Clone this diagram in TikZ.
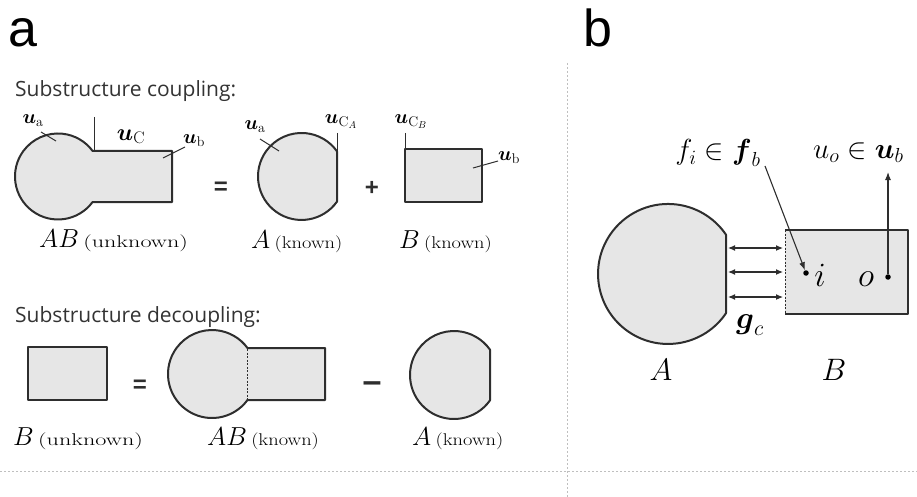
\RequirePackage{fix-cm}
\documentclass[tikz,border=0pt]{standalone}
\usepackage{fontspec}
\usepackage{amsmath}
\usetikzlibrary{arrows.meta,calc}
\newfontfamily\panelfont{Liberation Sans}
\newfontfamily\headfont{Open Sans}
\definecolor{partfill}{HTML}{E6E6E6}
\definecolor{edge}{HTML}{2E2E2E}
\newcommand\myfs[1]{\fontsize{#1}{#1}\selectfont}
\newcommand\unk{\scalebox{1.42}[1]{\myfs{17}(unknown)}}
\newcommand\kno{\scalebox{1.2}[1]{\myfs{17}(known)}}
\begin{document}
\begin{tikzpicture}[x=1pt,y=-1pt,
  part/.style={fill=partfill,draw=edge,line width=2pt,line join=round},
  lead/.style={draw=edge,line width=1pt},
  sep/.style={draw=gray!50,line width=0.8pt,dash pattern=on 2pt off 2pt},
  panel/.style={font=\panelfont\myfs{52},inner sep=0pt,anchor=base west},
  head/.style={font=\headfont\myfs{21},inner sep=0pt,anchor=base west,text=black!80},
  capt/.style={font=\myfs{26},inner sep=0pt,anchor=base west},
  small/.style={font=\myfs{20},inner sep=0pt},
  op/.style={font=\panelfont\bfseries\myfs{24},inner sep=0pt,text=edge},
  bigl/.style={font=\myfs{31},inner sep=0pt},
  pt/.style={font=\myfs{34},inner sep=0pt},
  dot/.style={circle,fill=black,inner sep=0pt,minimum size=5.5pt},
  dbl/.style={{Latex[length=7pt,width=6pt]}-{Latex[length=7pt,width=6pt]},draw=edge,line width=1.1pt},
  arr/.style={-{Latex[length=8pt,width=6pt]},draw=edge,line width=1.1pt}]
\useasboundingbox (0,0) rectangle (917,497);

% separators
\coordinate (vs1) at (567,63); \coordinate (vs2) at (567,497);
\coordinate (hs1) at (0,471); \coordinate (hs2) at (917,471);
\draw[sep] (vs1) -- (vs2);
\draw[sep] (hs1) -- (hs2);

% panel letters
\node[panel] (la) at (8,47) {a};
\node[panel] (lb) at (583,47) {b};

% ---------- coupling ----------
\node[head] (hc) at (15,97) {Substructure coupling:};

% AB
\draw[part] (92.6,202) arc[start angle=36.4,end angle=323.6,radius=43] -- (172,151) -- (172,202) -- cycle;
% A
\draw[part] (337,201.6) arc[start angle=35.3,end angle=324.7,radius=43.5] -- cycle;
% B
\draw[part] (405,149) rectangle (482,202);

\node[small] (ua1) at (33,121) {$\boldsymbol{u}_{\mathrm{a}}$};
\coordinate (ua1e) at (56,141);
\draw[lead] (41,132) -- (ua1e);
\node[font=\myfs{24},inner sep=0pt] (uc) at (131,137) {$\boldsymbol{u}_{\mathrm{C}}$};
\coordinate (uct) at (94,117); \coordinate (ucb) at (94,151);
\draw[lead] (uct) -- (ucb);
\node[small] (ub1) at (194,141) {$\boldsymbol{u}_{\mathrm{b}}$};
\coordinate (ub1e) at (163,158);
\draw[lead] (185,147) -- (ub1e);

\node[op] (eq1) at (221,188) {=};

\node[small] (ua2) at (255,127) {$\boldsymbol{u}_{\mathrm{a}}$};
\coordinate (ua2e) at (279,151);
\draw[lead] (260,139) -- (ua2e);
\node[small] (uca) at (341,122) {$\boldsymbol{u}_{\mathrm{C}_A}$};
\coordinate (ucat) at (337,133); \coordinate (ucab) at (337,151);
\draw[lead] (ucat) -- (ucab);

\node[op] (plus) at (372,188) {+};

\node[small] (ucbl) at (411,122) {$\boldsymbol{u}_{\mathrm{C}_B}$};
\coordinate (ucbt) at (405,133); \coordinate (ucbb) at (405,149);
\draw[lead] (ucbt) -- (ucbb);
\node[small] (ub2) at (509,158) {$\boldsymbol{u}_{\mathrm{b}}$};
\coordinate (ub2e) at (473,168);
\draw[lead] (498,161) -- (ub2e);

\node[capt] (cab) at (39,247) {$AB$\,\unk};
\node[capt] (ca) at (251,248) {$A$\,\kno};
\node[capt] (cb) at (399,248) {$B$\,\kno};

% ---------- decoupling ----------
\node[head] (hd) at (15,322) {Substructure decoupling:};

\draw[part] (28,347) rectangle (107,400);
\node[op] (eq2) at (140,386) {=};
\draw[part] (247.5,400) arc[start angle=36.2,end angle=323.8,radius=44] -- (325,348) -- (325,400) -- cycle;
\coordinate (dl1) at (247.5,349); \coordinate (dl2) at (247.5,399);
\draw[edge,line width=0.8pt,dash pattern=on 2pt off 1.5pt] (dl1) -- (dl2);
\node[font=\panelfont\bfseries\myfs{34},inner sep=0pt,text=edge] (minus) at (372,387) {–};
\draw[part] (490,400.3) arc[start angle=35.1,end angle=324.9,radius=44] -- cycle;

\node[capt] (db) at (13,445) {$B$\,\unk};
\node[capt] (dab) at (207,445) {$AB$\,\kno};
\node[capt] (da) at (412,445) {$A$\,\kno};

% ---------- panel b ----------
\draw[part] (726,313.2) arc[start angle=34.1,end angle=325.9,radius=70] -- cycle;
\fill[partfill] (785,230) rectangle (908,314);
\draw[edge,line width=2pt,line join=round] (785,230) -- (908,230) -- (908,314) -- (785,314);
\coordinate (bl1) at (785,230); \coordinate (bl2) at (785,314);
\draw[edge,line width=0.8pt,dash pattern=on 2pt off 1.5pt] (bl1) -- (bl2);

\foreach \yy [count=\k] in {248,272,297}{
  \coordinate (gl\k) at (728,\yy);
  \coordinate (gr\k) at (783,\yy);
  \draw[dbl] (gl\k) -- (gr\k);
}
\node[font=\myfs{31},inner sep=0pt] (gc) at (750,325) {$\boldsymbol{g}_{c}$};

\node[dot] (idot) at (806,273) {};
\node[pt,anchor=base] (il) at (820,286) {$i$};
\node[dot] (odot) at (888,277) {};
\node[pt,anchor=base] (ol) at (866,286) {$o$};

\node[font=\myfs{29},inner sep=0pt] (fl) at (718,153) {$f_i \in \boldsymbol{f}_b$};
\node[font=\myfs{29},inner sep=0pt,anchor=west] (ul) at (813,153) {$u_o \in \boldsymbol{u}_b$};
\coordinate (fs) at (765,166);
\draw[arr] (fs) -- (idot);
\coordinate (ut) at (888,172);
\draw[arr] (odot) -- (ut);

\node[bigl,anchor=base] (bA) at (661,380) {$A$};
\node[bigl,anchor=base] (bB) at (834,380) {$B$};
\end{tikzpicture}
\end{document}
